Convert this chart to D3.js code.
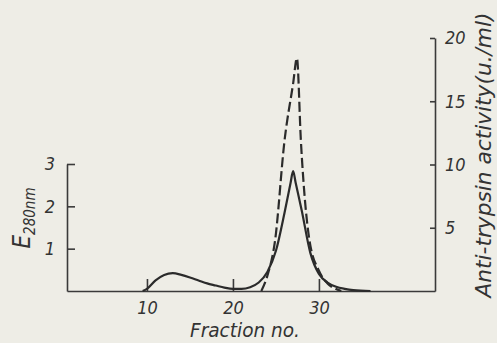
<!DOCTYPE html>
<meta charset="utf-8">
<html>
<head>
<script src="https://d3js.org/d3.v7.min.js"></script>
<style>
  body { margin: 0; background: #eeede6; }
  svg { display: block; background: #eeede6; }
  text { font-family: "DejaVu Sans Condensed", "DejaVu Sans", sans-serif; font-stretch: condensed; font-style: italic; fill: #333; }
  .axis path, .axis line { stroke: #3a3a3a; stroke-width: 1.6; }
  .axis text { font-size: 18px; fill: #333; }
</style>
</head>
<body>
<svg width="497" height="343"></svg>
<script>

// fraction no. vs E280nm (solid)
var solidFrac = [9.5, 10, 11, 12, 13, 14, 15, 16, 17, 18, 19, 20, 21, 22, 23, 24, 25, 26, 26.7, 27, 27.3, 28, 29, 30, 31, 32, 33, 34, 36];
var solidE    = [0, 0.05, 0.25, 0.38, 0.42, 0.38, 0.32, 0.25, 0.18, 0.13, 0.08, 0.05, 0.05, 0.09, 0.2, 0.45, 0.95, 1.85, 2.55, 2.83, 2.55, 1.9, 0.9, 0.4, 0.2, 0.1, 0.05, 0.02, 0];

// fraction no. vs anti-trypsin activity (dashed)
var dashFrac = [23.3, 24, 24.9, 26, 27, 27.44, 27.9, 28.9, 30, 31, 32, 32.6];
var dashAct  = [0, 1.2, 4.0, 11.9, 16.4, 18.4, 11.9, 4.0, 1.6, 0.6, 0.15, 0];

var xTicks = [10, 20, 30];
var leftTicks = [1, 2, 3];
var rightTicks = [5, 10, 15, 20];

var svg = d3.select("svg");

var x = d3.scaleLinear().domain([0.7, 43.5]).range([67, 435]);
var yL = d3.scaleLinear().domain([0, 3]).range([291, 164]);
var yR = d3.scaleLinear().domain([0, 20]).range([291, 38]);

// axes
svg.append("g")
    .attr("class", "axis")
    .attr("transform", "translate(0," + yL(0) + ")")
    .call(d3.axisBottom(x).tickValues(xTicks).tickSize(-12).tickSizeOuter(0).tickPadding(9))
    .call(function(g) { g.selectAll("text").attr("dy", "0.75em"); });

svg.append("g")
    .attr("class", "axis")
    .attr("transform", "translate(" + x.range()[0] + ",0)")
    .call(d3.axisLeft(yL).tickValues(leftTicks).tickFormat(d3.format("d")).tickSize(-8).tickSizeOuter(0).tickPadding(12));

svg.append("g")
    .attr("class", "axis")
    .attr("transform", "translate(" + x.range()[1] + ",0)")
    .call(d3.axisRight(yR).tickValues(rightTicks).tickSize(-5).tickSizeOuter(0).tickPadding(10));

svg.selectAll(".axis .domain").attr("fill", "none");

// curves
var solidLine = d3.line()
    .x(function(d, i) { return x(solidFrac[i]); })
    .y(function(d) { return yL(d); })
    .curve(d3.curveMonotoneX);

svg.append("path")
    .attr("d", solidLine(solidE))
    .attr("fill", "none")
    .attr("stroke", "#2b2b2b")
    .attr("stroke-width", 2.2);

var dashLine = d3.line()
    .x(function(d, i) { return x(dashFrac[i]); })
    .y(function(d) { return yR(d); })
    .curve(d3.curveMonotoneX);

svg.append("path")
    .attr("d", dashLine(dashAct))
    .attr("fill", "none")
    .attr("stroke", "#2b2b2b")
    .attr("stroke-width", 2.2)
    .attr("stroke-dasharray", "10,4");

// labels
svg.append("text")
    .attr("x", 245)
    .attr("y", 337)
    .attr("text-anchor", "middle")
    .attr("textLength", 110)
    .attr("lengthAdjust", "spacingAndGlyphs")
    .style("font-size", "20px")
    .text("Fraction no.");

var eLab = svg.append("text")
    .attr("transform", "translate(30,218) rotate(-90)")
    .attr("text-anchor", "middle");
eLab.append("tspan").style("font-size", "24px").text("E");
eLab.append("tspan").style("font-size", "15px").attr("dy", 5).text("280nm");

svg.append("text")
    .attr("transform", "translate(491,155) rotate(-90)")
    .attr("text-anchor", "middle")
    .attr("textLength", 285)
    .attr("lengthAdjust", "spacingAndGlyphs")
    .style("font-size", "21px")
    .text("Anti-trypsin activity(u./ml)");

</script>
</body>
</html>
